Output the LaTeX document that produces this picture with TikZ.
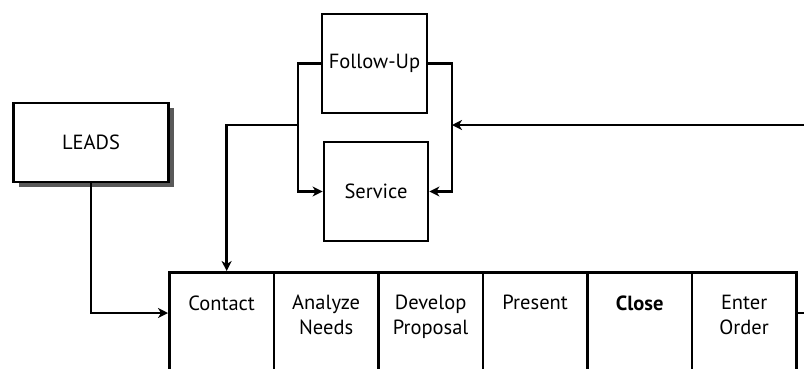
\documentclass[tikz,border=0pt]{standalone}
\usepackage{fontspec}
\setmainfont{PT Sans}
\usetikzlibrary{arrows.meta,shadows}

\begin{document}
\begin{tikzpicture}[x=1pt,y=-1pt,line width=2.8pt,
  box/.style={draw=black,fill=white,inner sep=0pt,font=\fontsize{20.5}{25}\selectfont},
  stagebox/.style={box,anchor=north west,minimum width=104.5pt,minimum height=120pt},
  stagetext/.style={anchor=north,inner sep=0pt,align=center,font=\fontsize{20.5}{25}\selectfont},
  arr/.style={-{Stealth[length=10pt,width=10pt,inset=3pt]}}]
\useasboundingbox (0,0) rectangle (804,368);
\clip (0,0) rectangle (804,368);
% top boxes
\node [box,minimum width=155pt,minimum height=79pt,
  drop shadow={shadow xshift=5pt,shadow yshift=-5pt,fill=black!65,opacity=1}] (leads) at (91,142.5) {LEADS};
\node [box,minimum width=105pt,minimum height=99pt] (followup) at (374.5,63.5) {Follow-Up};
\node [box,minimum width=104pt,minimum height=99pt] (service) at (376,191.5) {Service};
% stages
\node [stagebox] (contact) at (168,271) {};
\node [stagebox] (analyze) at (272.5,271) {};
\node [stagebox] (develop) at (377,271) {};
\node [stagebox] (present) at (481.5,271) {};
\node [stagebox] (close) at (586,271) {};
\node [stagebox] (enter) at (690.5,271) {};
\node [stagetext] (contact-t) at ([yshift=-23pt]contact.north) {Contact};
\node [stagetext] (analyze-t) at ([yshift=-23pt]analyze.north) {Analyze\\Needs};
\node [stagetext] (develop-t) at ([yshift=-23pt]develop.north) {Develop\\Proposal};
\node [stagetext] (present-t) at ([yshift=-23pt]present.north) {Present};
\node [stagetext] (close-t) at ([yshift=-23pt]close.north) {\bfseries Close};
\node [stagetext] (enter-t) at ([yshift=-23pt]enter.north) {Enter\\Order};
% connectors
\coordinate (fork) at (298,125);
\coordinate (merge) at (452,125);
\coordinate (feedback) at (804,125);
\coordinate (out) at (804,313);
\draw [arr] (leads.south) |- ([yshift=-42pt]contact.north west);
\draw [arr] (followup.west) -| (fork) |- (service.west);
\draw [arr] (fork) -| ([xshift=5pt]contact.north);
\draw [arr] (followup.east) -| (merge) |- (service.east);
\draw [arr] (feedback) -- (merge);
\draw ([yshift=-42pt]enter.north east) -- (out);
\end{tikzpicture}
\end{document}
